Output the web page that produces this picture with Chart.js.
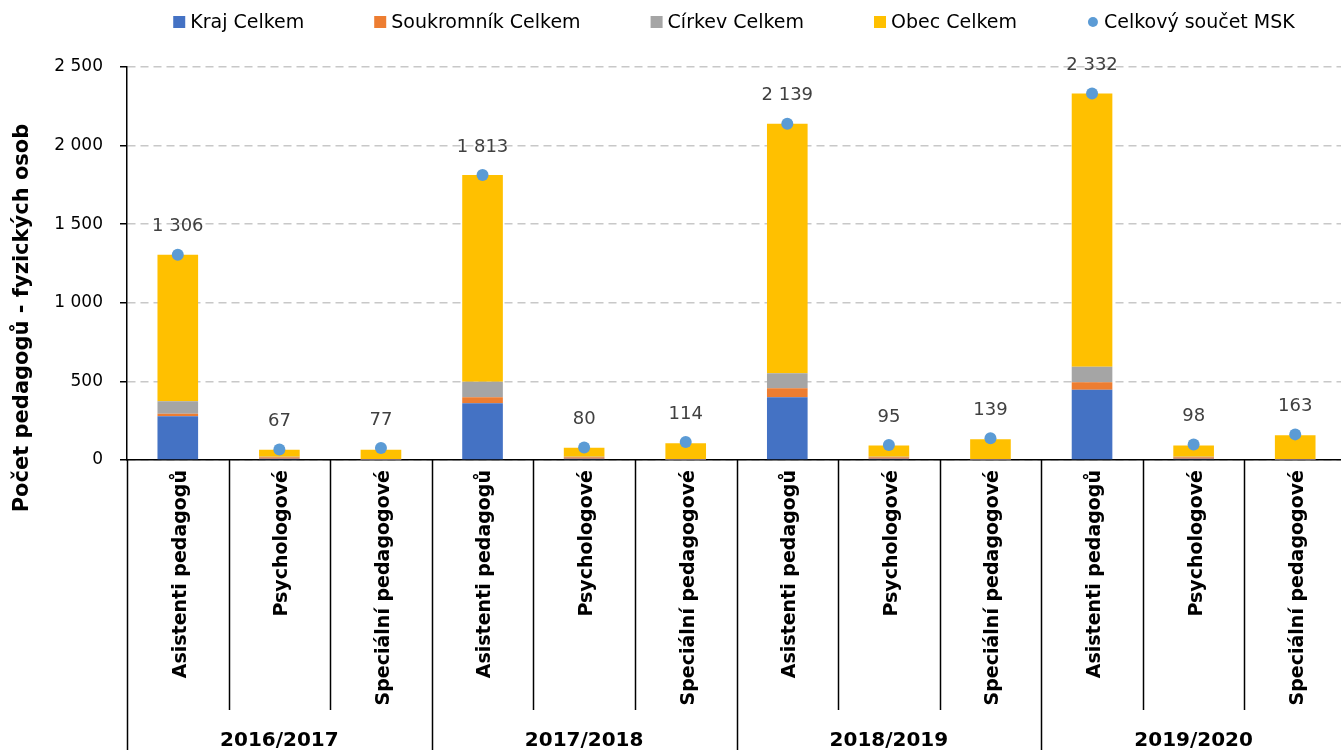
<!DOCTYPE html>
<html lang="cs">
<head>
<meta charset="utf-8">
<title>Počet pedagogů</title>
<script src="https://cdn.jsdelivr.net/npm/chart.js@4.4.1/dist/chart.umd.min.js"></script>
<style>
  html, body { margin: 0; padding: 0; background: #fff; overflow: hidden; }
  #obal { width: 1352px; height: 750px; }
</style>
</head>
<body>
<div id="obal"><canvas id="graf" width="1352" height="750"></canvas></div>
<script>
// Kategorie a roky
const kategorie = ["Asistenti pedagogů", "Psychologové", "Speciální pedagogové"];
const roky = ["2016/2017", "2017/2018", "2018/2019", "2019/2020"];

// Hodnoty
const kraj       = [279, 8, 2, 361, 8, 2, 399, 8, 2, 447, 8, 2];
const soukromnik = [15, 10, 4, 38, 10, 4, 58, 10, 4, 48, 10, 4];
const cirkev     = [80, 2, 0, 98, 2, 0, 95, 2, 0, 98, 2, 0];
const obec       = [932, 45, 59, 1316, 58, 101, 1587, 72, 126, 1739, 72, 152];
const celkem     = [1306, 67, 77, 1813, 80, 114, 2139, 95, 139, 2332, 98, 163];

const osaY = [0, 500, 1000, 1500, 2000, 2500];

const font = '"DejaVu Sans", sans-serif';

const popisky = [];
roky.forEach(() => kategorie.forEach(k => popisky.push(k)));

const formatCislo = v => String(v).replace(/\B(?=(\d{3})+(?!\d))/g, " ");

// Vlastní kreslení: legenda, popisky os, hodnoty nad body
const doplnky = {
  id: "doplnky",
  afterDraw(chart) {
    const ctx = chart.ctx;
    const x = chart.scales.x;
    const area = chart.chartArea;
    ctx.save();

    // hodnoty nad body
    const meta = chart.getDatasetMeta(4);
    ctx.font = "18px " + font;
    ctx.fillStyle = "#404040";
    ctx.textAlign = "center";
    ctx.textBaseline = "middle";
    meta.data.forEach((bod, i) => {
      ctx.fillText(formatCislo(celkem[i]), bod.x, bod.y - 28);
    });

    // oddělovače kategorií
    ctx.strokeStyle = "#000";
    ctx.lineWidth = 1.5;
    const sirka = x.getPixelForValue(1) - x.getPixelForValue(0);
    for (let i = 0; i <= popisky.length; i++) {
      const px = Math.round(x.getPixelForValue(i) - sirka / 2) + 0.5;
      const konec = (i % kategorie.length === 0) ? 750 : 710;
      ctx.beginPath();
      ctx.moveTo(px, area.bottom);
      ctx.lineTo(px, konec);
      ctx.stroke();
    }

    // názvy kategorií (svisle)
    ctx.font = "bold 19px " + font;
    ctx.fillStyle = "#000";
    popisky.forEach((text, i) => {
      ctx.save();
      ctx.translate(x.getPixelForValue(i) + 3, area.bottom + 10);
      ctx.rotate(-Math.PI / 2);
      ctx.textAlign = "right";
      ctx.textBaseline = "middle";
      ctx.fillText(text, 0, 0);
      ctx.restore();
    });

    // roky
    ctx.font = "bold 20px " + font;
    ctx.textAlign = "center";
    ctx.textBaseline = "middle";
    roky.forEach((rok, g) => {
      const stred = x.getPixelForValue(g * 3 + 1);
      ctx.fillText(rok, stred, 741);
    });

    // název osy Y
    ctx.save();
    ctx.translate(23, 318);
    ctx.rotate(-Math.PI / 2);
    ctx.font = "bold 21px " + font;
    ctx.fillText("Počet pedagogů - fyzických osob", 0, 0);
    ctx.restore();

    // legenda
    ctx.font = "19px " + font;
    ctx.textAlign = "left";
    const polozky = chart.data.datasets.map(ds => ({
      text: ds.label,
      barva: ds.backgroundColor || ds.pointBackgroundColor,
      bod: ds.type === "line"
    }));
    const mezera = 70;
    const sirky = polozky.map(p => 17 + ctx.measureText(p.text).width);
    const celkova = sirky.reduce((a, b) => a + b, 0) + mezera * (polozky.length - 1);
    let lx = (area.left + 1341) / 2 - celkova / 2;
    const ly = 22;
    polozky.forEach((p, i) => {
      ctx.fillStyle = p.barva;
      if (p.bod) {
        ctx.beginPath();
        ctx.arc(lx + 6, ly, 5, 0, Math.PI * 2);
        ctx.fill();
      } else {
        ctx.fillRect(lx, ly - 6, 12, 12);
      }
      ctx.fillStyle = "#000";
      ctx.fillText(p.text, lx + 17, ly + 1);
      lx += sirky[i] + mezera;
    });

    ctx.restore();
  }
};

new Chart(document.getElementById("graf"), {
  data: {
    labels: popisky,
    datasets: [
      { type: "bar", label: "Kraj Celkem", data: kraj, backgroundColor: "#4472C4", stack: "s", order: 1 },
      { type: "bar", label: "Soukromník Celkem", data: soukromnik, backgroundColor: "#ED7D31", stack: "s", order: 1 },
      { type: "bar", label: "Církev Celkem", data: cirkev, backgroundColor: "#A5A5A5", stack: "s", order: 1 },
      { type: "bar", label: "Obec Celkem", data: obec, backgroundColor: "#FFC000", stack: "s", order: 1 },
      {
        type: "line", label: "Celkový součet MSK", data: celkem, stack: "c", order: 0,
        showLine: false, pointRadius: 6, pointHoverRadius: 6,
        pointBackgroundColor: "#5B9BD5", pointBorderWidth: 0, borderColor: "#5B9BD5"
      }
    ]
  },
  options: {
    responsive: false,
    animation: false,
    devicePixelRatio: 1,
    layout: { padding: { top: 67, left: 0, right: 0, bottom: 0 } },
    datasets: { bar: { barPercentage: 0.4, categoryPercentage: 1 } },
    plugins: { legend: { display: false }, tooltip: { enabled: false } },
    scales: {
      x: {
        stacked: true,
        grid: { display: false },
        border: { color: "#000", width: 1.5 },
        ticks: { display: false },
        afterFit: s => { s.height = 290; }
      },
      y: {
        stacked: true,
        min: 0,
        max: 2500,
        afterBuildTicks: s => { s.ticks = osaY.map(v => ({ value: v })); },
        afterFit: s => { s.width = 127; s.paddingTop = 0; },
        border: { color: "#000", width: 1.5, dash: [8, 5] },
        grid: {
          color: "#c8c8c8",
          lineWidth: 1.5,
          tickColor: "#000",
          tickLength: 7,
          tickWidth: 1.5,
          tickBorderDash: []
        },
        ticks: {
          padding: 17,
          color: "#000",
          font: { family: font, size: 17 },
          callback: v => formatCislo(v)
        }
      }
    }
  },
  plugins: [doplnky]
});
</script>
</body>
</html>
